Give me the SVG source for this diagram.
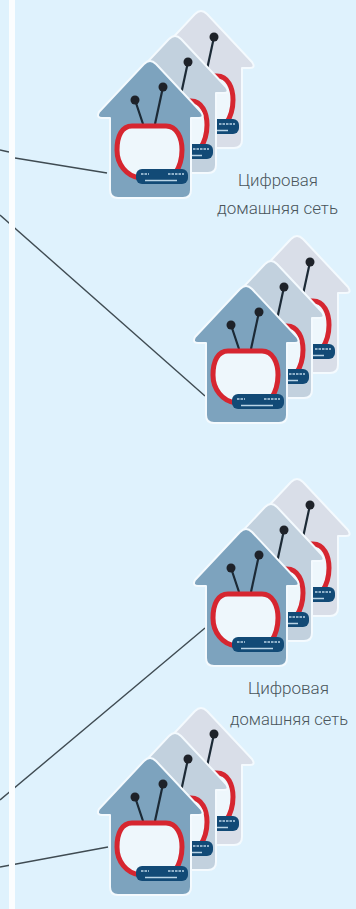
<svg xmlns="http://www.w3.org/2000/svg" width="356" height="909" viewBox="0 0 356 909">
<style>
.conn{stroke:#3f4b52;stroke-width:1.4;fill:none}
.lbl{font-family:Roboto,"Liberation Sans",sans-serif;font-size:17px;font-weight:300;fill:#4a555b;text-anchor:start}
.ant{stroke:#1c2a36;stroke-width:2.2;fill:none}
.ball{fill:#1e2229}
.tv{fill:#eef7fc;stroke:#d62630;stroke-width:5;stroke-linejoin:round}
.modem{fill:#124a76}
.mline{stroke:#b9d4e6;stroke-width:1.500;fill:none}
.shape{stroke:#f4fafe;stroke-width:2;stroke-linejoin:round}
</style>
<defs>
<path id="shape" d="M150 61 Q153 61 156 64 L201 112 Q205 118 199 118 L191 118 L191 190 Q191 198 183 198 L118 198 Q110 198 110 190 L110 118 L102 118 Q96 118 99 112 L144 64 Q147 61 150 61 Z"/>
<path id="loop" d="M132 126 L166 126 C177 126 182 138 182 150 C182 160 179 168 175 174 L140 178 C126 176 117 164 117 150 C117 136 122 126 132 126 Z"/>
<g id="tv">
<path class="ant" d="M135 100 L143 124"/><path class="ant" d="M163 87 L155 124"/>
<circle class="ball" cx="135" cy="100" r="4.500"/><circle class="ball" cx="163" cy="87" r="4.500"/>
<use href="#loop" class="tv"/>
<rect class="modem" x="136" y="169" width="52" height="15" rx="6"/>
<path class="mline" d="M145 180.500 L177 180.500"/>
<path class="mline" d="M141 174 L149 174 M168 174 L184 174" stroke-dasharray="2.500 1"/>
</g>
<g id="rear">
<path class="ant" d="M163 87 L155 124"/>
<circle class="ball" cx="163" cy="87" r="4.500"/>
<use href="#loop" class="tv"/>
<rect class="modem" x="136" y="169" width="52" height="15" rx="6"/>
<path class="mline" d="M145 180.500 L177 180.500"/>
<path class="mline" d="M168 174 L184 174" stroke-dasharray="2.500 1"/>
</g>
<g id="stack">
<g transform="translate(51 -50)"><use href="#shape" class="shape" fill="#d9dee8"/><use href="#rear"/></g>
<g transform="translate(25 -25)"><use href="#shape" class="shape" fill="#c2d1de"/><use href="#rear"/></g>
<use href="#shape" class="shape" fill="#7da3be"/><use href="#tv"/>
</g>
</defs>
<rect width="356" height="909" fill="#dff2fd"/>
<g id="connectors">
<path class="conn" d="M0 150 L9 152"/>
<path class="conn" d="M15 158 L107 173"/>
<path class="conn" d="M0 215 L205 396"/>
<path class="conn" d="M205 628 L0 800"/>
<path class="conn" d="M108 847 L0 867"/>
</g>
<rect id="stripe" x="9" y="0" width="6" height="909" fill="#fbfdfe"/>
<g id="home-1"><use href="#stack"/></g>
<g id="home-2"><use href="#stack" transform="translate(96 225)"/></g>
<g id="home-3"><use href="#stack" transform="translate(96 468)"/></g>
<g id="home-4"><use href="#stack" transform="translate(0 697)"/></g>
<g id="label-1"><text class="lbl" x="238" y="186" textLength="80" lengthAdjust="spacingAndGlyphs">Цифровая</text><text class="lbl" x="217" y="214" textLength="121" lengthAdjust="spacingAndGlyphs">домашняя сеть</text></g>
<g id="label-2"><text class="lbl" x="248" y="694" textLength="81" lengthAdjust="spacingAndGlyphs">Цифровая</text><text class="lbl" x="230" y="725" textLength="118" lengthAdjust="spacingAndGlyphs">домашняя сеть</text></g>
</svg>
